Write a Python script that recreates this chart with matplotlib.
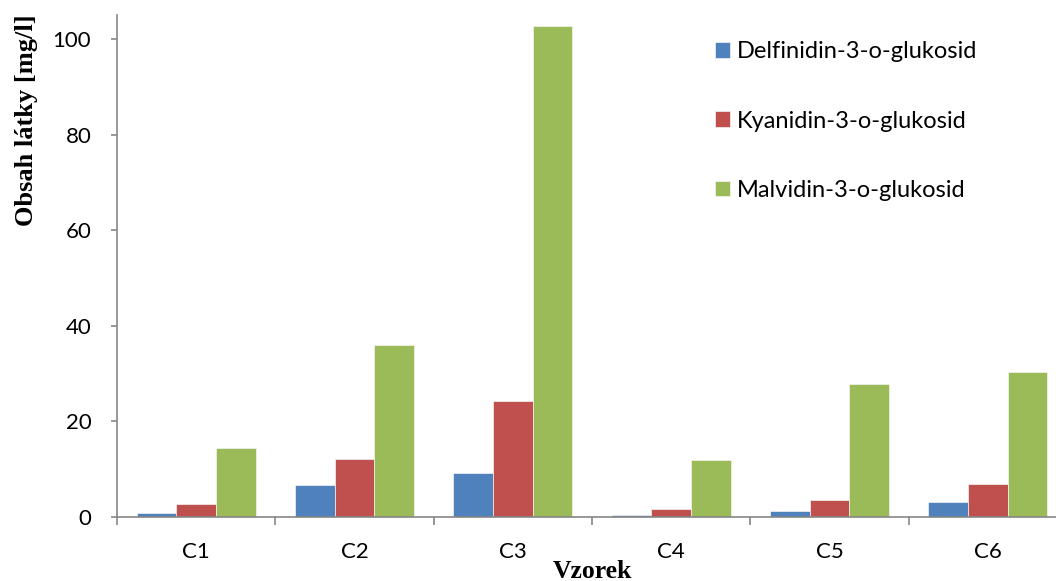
import numpy as np
import matplotlib
matplotlib.use("Agg")
import matplotlib.pyplot as plt

# obsah antokyanů ve vzorcích C1-C6 [mg/l]
vzorky = ["C1", "C2", "C3", "C4", "C5", "C6"]
delfinidin = [0.9, 6.7, 9.2, 0.5, 1.3, 3.2]
kyanidin = [2.8, 12.2, 24.2, 1.6, 3.5, 7.0]
malvidin = [14.4, 35.9, 102.7, 11.9, 27.8, 30.3]

serie = [
    ("Delfinidin-3-o-glukosid", delfinidin, "#4F81BD"),
    ("Kyanidin-3-o-glukosid", kyanidin, "#C0504D"),
    ("Malvidin-3-o-glukosid", malvidin, "#9BBB59"),
]

plt.rcParams["font.family"] = ["Lato", "DejaVu Sans"]
osa_barva = "#868686"

fig = plt.figure(figsize=(10.56, 5.81), dpi=100)
ax = fig.add_axes([117 / 1056, 64 / 581, 950 / 1056, 502 / 581])

x = np.arange(len(vzorky))
w = 0.25
for i, (nazev, hodnoty, barva) in enumerate(serie):
    ax.bar(x + (i - 1) * w, hodnoty, w, color=barva, label=nazev,
           edgecolor="#f4f4f4", linewidth=0.5)

ax.set_xlim(-0.5, len(vzorky) - 0.5)
ax.set_ylim(0, 105)
ax.set_yticks(np.arange(0, 101, 20))

# popisky kategorií uprostřed, značky na hranicích
ax.set_xticks(np.arange(len(vzorky) + 1) - 0.5)
ax.set_xticklabels([])
ax.set_xticks(x, minor=True)
ax.set_xticklabels(vzorky, minor=True)
ax.tick_params(axis="x", which="minor", length=0, pad=18, labelsize=16)
ax.tick_params(axis="x", which="major", length=6, width=1.2, color=osa_barva)
ax.tick_params(axis="y", length=4.5, width=1.2, color=osa_barva, labelsize=16, pad=14)

for s in ["top", "right"]:
    ax.spines[s].set_visible(False)
for s in ["left", "bottom"]:
    ax.spines[s].set_color(osa_barva)
    ax.spines[s].set_linewidth(1.2)

serif = ["Liberation Serif", "DejaVu Serif"]
ax.set_ylabel("Obsah látky [mg/l]", family=serif, fontweight="bold", fontsize=19)
ax.yaxis.set_label_coords(-0.083, 0.79)
ax.set_xlabel("Vzorek", family=serif, fontweight="bold", fontsize=18.5)
ax.xaxis.set_label_coords(0.5, -0.0857)

ax.legend(loc="upper left", bbox_to_anchor=(0.6295, 0.948), frameon=False,
          fontsize=17, handlelength=0.64, handleheight=0.64, handletextpad=0.28,
          labelspacing=2.05, borderaxespad=0, borderpad=0)

fig.savefig("out.png", dpi=100)
